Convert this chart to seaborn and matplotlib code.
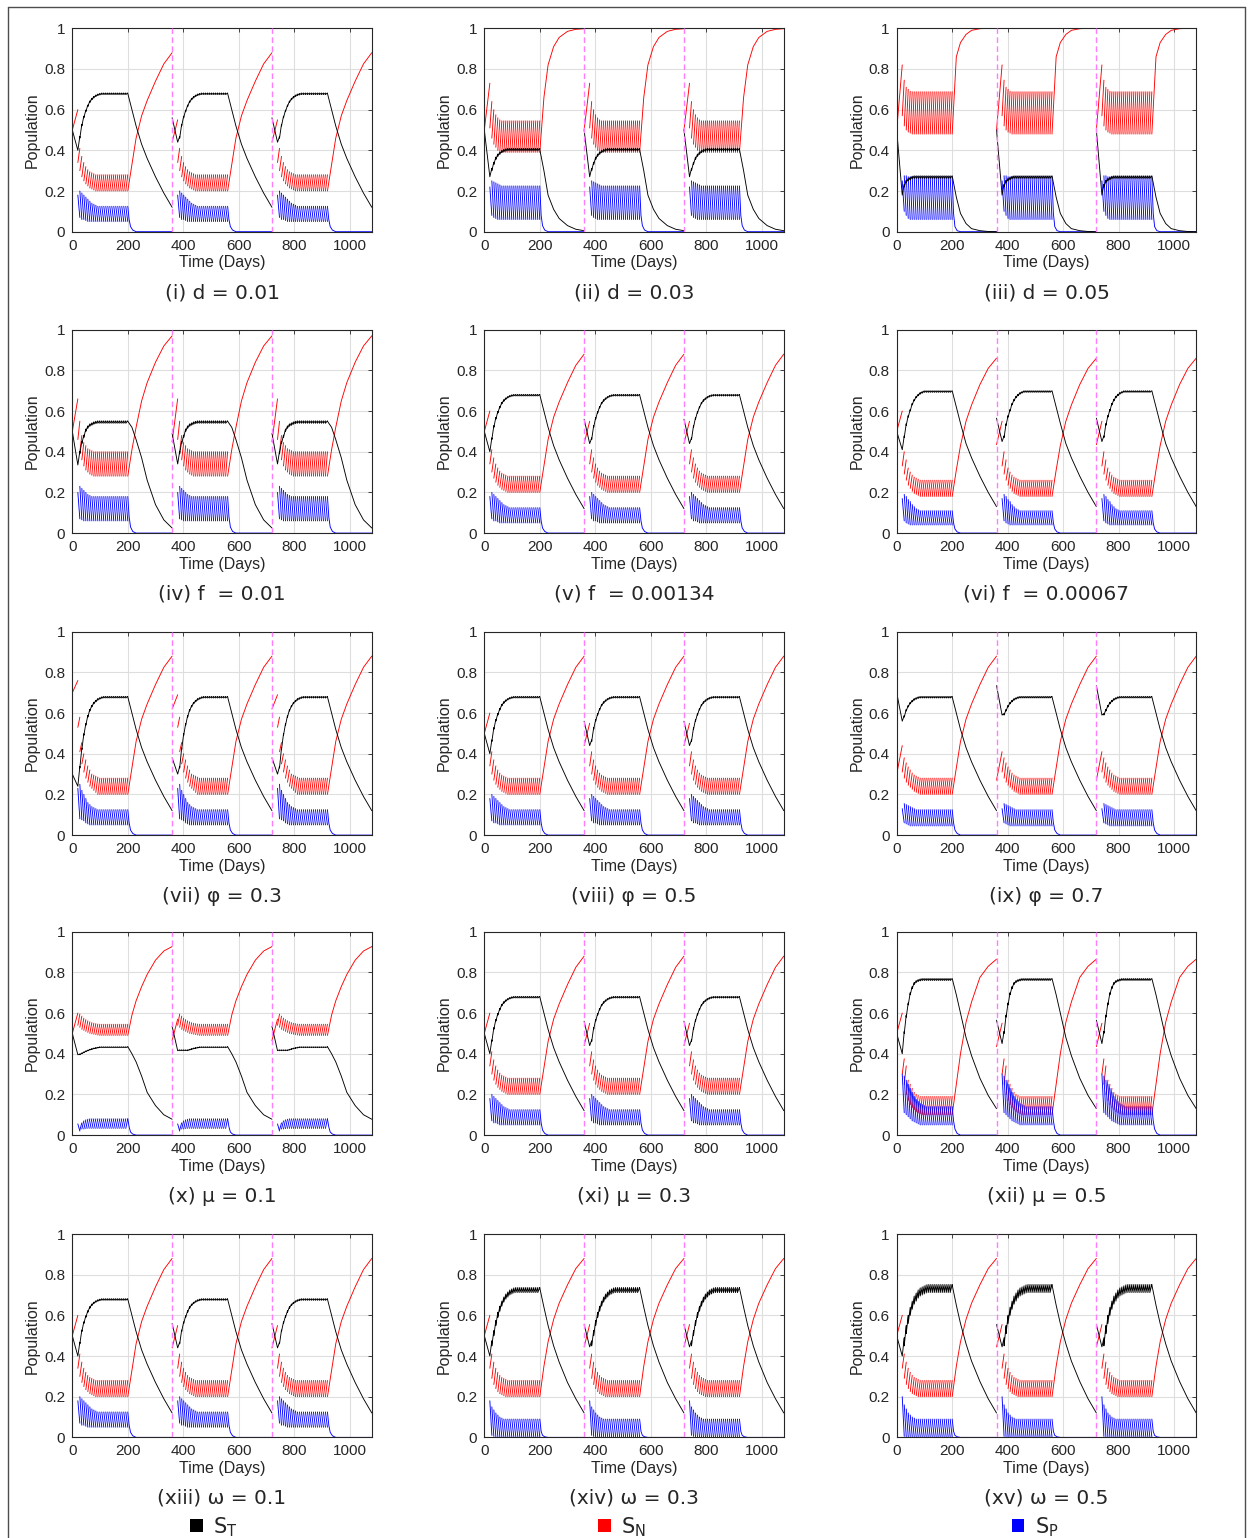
import numpy as np
import pandas as pd
import matplotlib
matplotlib.use("Agg")
import matplotlib.pyplot as plt
from matplotlib.patches import Patch
from matplotlib.lines import Line2D
import seaborn as sns

# ---- data ------------------------------------------------------------------
captions = ["(i) d = 0.01", "(ii) d = 0.03", "(iii) d = 0.05",
            "(iv) f  = 0.01", "(v) f  = 0.00134", "(vi) f  = 0.00067",
            "(vii) \u03c6 = 0.3", "(viii) \u03c6 = 0.5", "(ix) \u03c6 = 0.7",
            "(x) \u03bc = 0.1", "(xi) \u03bc = 0.3", "(xii) \u03bc = 0.5",
            "(xiii) \u03c9 = 0.1", "(xiv) \u03c9 = 0.3", "(xv) \u03c9 = 0.5"]

SEASON_START = [0, 360, 720]
PRE_T = 20                               # first treatment pulse (day of season)
PULSE_T = np.linspace(20, 200, 26)       # treatment pulses, roughly weekly
POST_T = [200, 215, 230, 250, 270, 300, 330, 360]
BLUE_POST_T = [200, 205, 210, 218, 230, 360]

# initial values (first season / later seasons) and value at first pulse
black_start1 = [0.50, 0.50, 0.50, 0.50, 0.50, 0.50, 0.30, 0.50, 0.70, 0.50, 0.50, 0.50, 0.50, 0.50, 0.50]
black_dip1 = [0.40, 0.27, 0.18, 0.335, 0.40, 0.41, 0.24, 0.40, 0.56, 0.395, 0.40, 0.40, 0.40, 0.40, 0.40]
black_start2 = [0.56, 0.50, 0.50, 0.49, 0.56, 0.565, 0.38, 0.56, 0.735, 0.535, 0.56, 0.565, 0.56, 0.555, 0.555]
black_dip2 = [0.44, 0.27, 0.18, 0.34, 0.44, 0.45, 0.30, 0.44, 0.59, 0.415, 0.44, 0.45, 0.44, 0.445, 0.445]
red_start1 = [0.50, 0.50, 0.50, 0.50, 0.50, 0.50, 0.70, 0.50, 0.30, 0.50, 0.50, 0.50, 0.50, 0.50, 0.50]
red_peak1 = [0.60, 0.73, 0.82, 0.66, 0.60, 0.60, 0.76, 0.60, 0.44, 0.60, 0.60, 0.60, 0.60, 0.60, 0.60]
red_start2 = [0.44, 0.50, 0.50, 0.45, 0.44, 0.435, 0.62, 0.44, 0.27, 0.465, 0.44, 0.435, 0.44, 0.445, 0.445]
red_peak2 = [0.55, 0.73, 0.82, 0.66, 0.55, 0.55, 0.69, 0.55, 0.41, 0.57, 0.55, 0.55, 0.55, 0.555, 0.555]

# S_N teeth: value just after each pulse / just before the next one
red_after = [
    [0.34, 0.30, 0.27, 0.25, 0.235, 0.225, 0.215, 0.21, 0.205, 0.20],
    [0.51, 0.46, 0.43, 0.415, 0.40, 0.395, 0.39],
    [0.57, 0.52, 0.50, 0.49, 0.485, 0.48],
    [0.46, 0.40, 0.36, 0.33, 0.31, 0.30, 0.29, 0.285, 0.28],
    [0.34, 0.30, 0.27, 0.25, 0.235, 0.225, 0.215, 0.21, 0.205, 0.20],
    [0.33, 0.29, 0.26, 0.235, 0.22, 0.205, 0.195, 0.19, 0.185, 0.18],
    [0.53, 0.41, 0.35, 0.31, 0.28, 0.26, 0.24, 0.23, 0.22, 0.21, 0.20],
    [0.34, 0.30, 0.27, 0.25, 0.235, 0.225, 0.215, 0.21, 0.205, 0.20],
    [0.31, 0.28, 0.26, 0.245, 0.235, 0.225, 0.215, 0.21, 0.205, 0.20],
    [0.54, 0.53, 0.52, 0.515, 0.51, 0.505, 0.50, 0.498, 0.496, 0.494, 0.492, 0.49],
    [0.34, 0.30, 0.27, 0.25, 0.235, 0.225, 0.215, 0.21, 0.205, 0.20],
    [0.30, 0.25, 0.20, 0.17, 0.15, 0.135, 0.125, 0.115, 0.11, 0.105, 0.10],
    [0.34, 0.30, 0.27, 0.25, 0.235, 0.225, 0.215, 0.21, 0.205, 0.20],
    [0.34, 0.29, 0.26, 0.24, 0.225, 0.215, 0.21, 0.205, 0.20],
    [0.34, 0.29, 0.26, 0.24, 0.225, 0.215, 0.21, 0.205, 0.20],
]
red_before = [
    [0.41, 0.37, 0.34, 0.32, 0.305, 0.295, 0.29, 0.285, 0.28],
    [0.64, 0.60, 0.575, 0.56, 0.55, 0.545],
    [0.745, 0.71, 0.70, 0.69, 0.688],
    [0.55, 0.48, 0.445, 0.43, 0.415, 0.41, 0.405, 0.40],
    [0.41, 0.37, 0.34, 0.32, 0.305, 0.295, 0.29, 0.285, 0.28],
    [0.40, 0.36, 0.32, 0.30, 0.285, 0.275, 0.27, 0.265, 0.26],
    [0.58, 0.455, 0.40, 0.37, 0.34, 0.32, 0.30, 0.295, 0.29, 0.285, 0.28],
    [0.41, 0.37, 0.34, 0.32, 0.305, 0.295, 0.29, 0.285, 0.28],
    [0.38, 0.355, 0.335, 0.32, 0.305, 0.295, 0.29, 0.285, 0.28],
    [0.595, 0.585, 0.575, 0.568, 0.562, 0.557, 0.553, 0.55, 0.548, 0.546, 0.545],
    [0.41, 0.37, 0.34, 0.32, 0.305, 0.295, 0.29, 0.285, 0.28],
    [0.375, 0.34, 0.27, 0.25, 0.23, 0.21, 0.20, 0.195, 0.19],
    [0.41, 0.37, 0.34, 0.32, 0.305, 0.295, 0.29, 0.285, 0.28],
    [0.41, 0.37, 0.34, 0.32, 0.305, 0.295, 0.29, 0.285, 0.28],
    [0.41, 0.37, 0.34, 0.32, 0.305, 0.295, 0.29, 0.285, 0.28],
]

# S_P teeth
blue_after = [
    [0.18, 0.20, 0.19, 0.18, 0.17, 0.16, 0.15, 0.14, 0.135, 0.13, 0.125],
    [0.22, 0.25, 0.245, 0.24, 0.235, 0.23, 0.225],
    [0.25, 0.275, 0.275, 0.27],
    [0.20, 0.23, 0.22, 0.21, 0.20, 0.19, 0.185, 0.18],
    [0.18, 0.20, 0.19, 0.18, 0.17, 0.16, 0.15, 0.14, 0.135, 0.13, 0.125],
    [0.17, 0.19, 0.18, 0.165, 0.155, 0.14, 0.13, 0.12, 0.115, 0.11],
    [0.23, 0.25, 0.22, 0.20, 0.18, 0.16, 0.15, 0.14, 0.135, 0.13, 0.125],
    [0.18, 0.20, 0.19, 0.18, 0.17, 0.16, 0.15, 0.14, 0.135, 0.13, 0.125],
    [0.13, 0.155, 0.15, 0.145, 0.14, 0.135, 0.13, 0.125],
    [0.055, 0.025, 0.03, 0.03, 0.032, 0.033],
    [0.18, 0.20, 0.19, 0.18, 0.17, 0.16, 0.15, 0.14, 0.135, 0.13, 0.125],
    [0.30, 0.29, 0.27, 0.25, 0.23, 0.21, 0.19, 0.175, 0.165, 0.155, 0.15, 0.145, 0.14],
    [0.18, 0.20, 0.19, 0.18, 0.17, 0.16, 0.15, 0.14, 0.135, 0.13, 0.125],
    [0.18, 0.15, 0.135, 0.12, 0.11, 0.10, 0.095, 0.09],
    [0.20, 0.16, 0.14, 0.12, 0.11, 0.10, 0.095, 0.09],
]
blue_before = [
    [0.07, 0.06, 0.06, 0.055, 0.05],
    [0.08, 0.07, 0.065, 0.06],
    [0.10, 0.08, 0.065, 0.06],
    [0.07, 0.065, 0.06],
    [0.07, 0.06, 0.06, 0.055, 0.05],
    [0.06, 0.05, 0.045, 0.04],
    [0.08, 0.075, 0.07, 0.06, 0.055, 0.05],
    [0.07, 0.06, 0.06, 0.055, 0.05],
    [0.06, 0.055, 0.05, 0.045],
    [0.02, 0.06, 0.07, 0.075, 0.078, 0.08],
    [0.07, 0.06, 0.06, 0.055, 0.05],
    [0.11, 0.10, 0.09, 0.08, 0.07, 0.065, 0.06, 0.055, 0.05],
    [0.07, 0.06, 0.06, 0.055, 0.05],
    [0.01, 0.005, 0.003],
    [0.005, 0.003],
]

# S_T during treatment: value at each pulse, and small ripple between pulses
black_low = [
    [0.40, 0.46, 0.52, 0.56, 0.59, 0.615, 0.635, 0.648, 0.657, 0.664, 0.669, 0.672, 0.674],
    [0.27, 0.30, 0.33, 0.355, 0.37, 0.38, 0.388, 0.393, 0.396, 0.398],
    [0.18, 0.22, 0.24, 0.25, 0.255, 0.26, 0.262],
    [0.335, 0.39, 0.44, 0.47, 0.50, 0.515, 0.525, 0.53, 0.535, 0.538, 0.54],
    [0.40, 0.46, 0.52, 0.56, 0.59, 0.615, 0.635, 0.648, 0.657, 0.664, 0.669, 0.672, 0.674],
    [0.41, 0.47, 0.53, 0.57, 0.60, 0.63, 0.65, 0.665, 0.675, 0.683, 0.688, 0.692],
    [0.24, 0.33, 0.42, 0.49, 0.54, 0.58, 0.61, 0.63, 0.645, 0.655, 0.663, 0.668, 0.672, 0.674],
    [0.40, 0.46, 0.52, 0.56, 0.59, 0.615, 0.635, 0.648, 0.657, 0.664, 0.669, 0.672, 0.674],
    [0.56, 0.58, 0.61, 0.63, 0.645, 0.655, 0.663, 0.668, 0.672, 0.674],
    [0.395, 0.395, 0.40, 0.405, 0.41, 0.414, 0.418, 0.421, 0.424, 0.426, 0.428, 0.43],
    [0.40, 0.46, 0.52, 0.56, 0.59, 0.615, 0.635, 0.648, 0.657, 0.664, 0.669, 0.672, 0.674],
    [0.40, 0.50, 0.58, 0.64, 0.69, 0.72, 0.74, 0.75, 0.755, 0.758, 0.76],
    [0.40, 0.46, 0.52, 0.56, 0.59, 0.615, 0.635, 0.648, 0.657, 0.664, 0.669, 0.672, 0.674],
    [0.40, 0.45, 0.50, 0.55, 0.59, 0.62, 0.645, 0.665, 0.68, 0.69, 0.70, 0.705, 0.71, 0.712],
    [0.40, 0.45, 0.51, 0.56, 0.60, 0.63, 0.655, 0.67, 0.685, 0.695, 0.70, 0.705, 0.71, 0.712],
]
black_ripple = [0.008, 0.012, 0.013, 0.012, 0.008, 0.008, 0.008, 0.008, 0.008, 0.004, 0.008, 0.01, 0.008, 0.025, 0.04]

# after treatment stops (days 200-360 of each season)
red_post = [
    [0.20, 0.33, 0.46, 0.57, 0.645, 0.74, 0.825, 0.88],
    [0.39, 0.66, 0.82, 0.91, 0.955, 0.985, 0.995, 0.998],
    [0.48, 0.86, 0.93, 0.97, 0.99, 0.998, 1.0, 1.0],
    [0.28, 0.41, 0.52, 0.65, 0.74, 0.84, 0.92, 0.97],
    [0.20, 0.33, 0.46, 0.57, 0.645, 0.74, 0.825, 0.88],
    [0.18, 0.31, 0.43, 0.55, 0.63, 0.73, 0.81, 0.86],
    [0.20, 0.33, 0.46, 0.57, 0.645, 0.74, 0.825, 0.88],
    [0.20, 0.33, 0.46, 0.57, 0.645, 0.74, 0.825, 0.88],
    [0.20, 0.33, 0.46, 0.57, 0.645, 0.74, 0.825, 0.88],
    [0.49, 0.59, 0.66, 0.73, 0.79, 0.86, 0.905, 0.927],
    [0.20, 0.33, 0.46, 0.57, 0.645, 0.74, 0.825, 0.88],
    [0.10, 0.25, 0.40, 0.555, 0.655, 0.775, 0.83, 0.865],
    [0.20, 0.33, 0.46, 0.57, 0.645, 0.74, 0.825, 0.88],
    [0.20, 0.35, 0.47, 0.58, 0.66, 0.75, 0.83, 0.88],
    [0.20, 0.35, 0.47, 0.58, 0.66, 0.75, 0.83, 0.88],
]
black_post = [
    [0.68, 0.60, 0.52, 0.43, 0.36, 0.27, 0.19, 0.12],
    [0.405, 0.30, 0.18, 0.11, 0.065, 0.03, 0.012, 0.005],
    [0.275, 0.17, 0.09, 0.04, 0.015, 0.005, 0.001, 0.0],
    [0.55, 0.52, 0.46, 0.37, 0.26, 0.14, 0.065, 0.025],
    [0.68, 0.60, 0.52, 0.43, 0.36, 0.27, 0.19, 0.12],
    [0.70, 0.62, 0.54, 0.44, 0.37, 0.28, 0.20, 0.13],
    [0.68, 0.60, 0.52, 0.43, 0.36, 0.27, 0.19, 0.12],
    [0.68, 0.60, 0.52, 0.43, 0.36, 0.27, 0.19, 0.12],
    [0.68, 0.60, 0.52, 0.43, 0.36, 0.27, 0.19, 0.12],
    [0.435, 0.40, 0.36, 0.29, 0.21, 0.145, 0.10, 0.078],
    [0.68, 0.60, 0.52, 0.43, 0.36, 0.27, 0.19, 0.12],
    [0.77, 0.69, 0.60, 0.48, 0.39, 0.28, 0.195, 0.13],
    [0.68, 0.60, 0.52, 0.43, 0.36, 0.27, 0.19, 0.12],
    [0.735, 0.64, 0.55, 0.45, 0.37, 0.27, 0.19, 0.12],
    [0.75, 0.65, 0.56, 0.46, 0.375, 0.275, 0.19, 0.12],
]
blue_post = [
    [0.125, 0.06, 0.025, 0.008, 0.0, 0.0],
    [0.225, 0.08, 0.03, 0.008, 0.0, 0.0],
    [0.27, 0.09, 0.025, 0.005, 0.0, 0.0],
    [0.18, 0.08, 0.03, 0.008, 0.0, 0.0],
    [0.125, 0.06, 0.025, 0.008, 0.0, 0.0],
    [0.11, 0.05, 0.02, 0.006, 0.0, 0.0],
    [0.125, 0.06, 0.025, 0.008, 0.0, 0.0],
    [0.125, 0.06, 0.025, 0.008, 0.0, 0.0],
    [0.125, 0.06, 0.025, 0.008, 0.0, 0.0],
    [0.08, 0.04, 0.015, 0.005, 0.0, 0.0],
    [0.125, 0.06, 0.025, 0.008, 0.0, 0.0],
    [0.14, 0.07, 0.03, 0.008, 0.0, 0.0],
    [0.125, 0.06, 0.025, 0.008, 0.0, 0.0],
    [0.09, 0.03, 0.01, 0.003, 0.0, 0.0],
    [0.09, 0.03, 0.01, 0.003, 0.0, 0.0],
]

x_ticks = [0, 200, 400, 600, 800, 1000]
y_ticks = [0, 0.2, 0.4, 0.6, 0.8, 1]
y_ticklabels = ["0", "0.2", "0.4", "0.6", "0.8", "1"]
colors = {"ST": "black", "SN": "#ff0000", "SP": "#0000ff"}


def pad(vals, n):
    vals = list(vals)
    return vals + [vals[-1]] * (n - len(vals))


def panel_frame(p):
    rows = []
    seg = [0]

    def add(series, ts, vs):
        for t, v in zip(ts, vs):
            rows.append((t, v, series, seg[0]))
        seg[0] += 1

    n = len(PULSE_T) - 1
    ra, rb = pad(red_after[p], n), pad(red_before[p], n)
    ba, bb = pad(blue_after[p], n), pad(blue_before[p], n)
    for s, o in enumerate(SEASON_START):
        if s == 0:
            b0, bd, r0, rp = black_start1[p], black_dip1[p], red_start1[p], red_peak1[p]
        else:
            b0, bd, r0, rp = black_start2[p], black_dip2[p], red_start2[p], red_peak2[p]
        lo = [max(v, bd) for v in pad(black_low[p], n + 1)]
        lo[0] = bd

        # S_T : one continuous line per season
        bt, bv = [o, o + PRE_T], [b0, bd]
        for k in range(n):
            bt.append(o + PULSE_T[k + 1])
            bv.append(lo[k + 1] + black_ripple[p])
            if k < n - 1:
                bt.append(o + PULSE_T[k + 1])
                bv.append(lo[k + 1])
        bt += [o + t for t in POST_T]
        bv += black_post[p]
        add("ST", bt, bv)

        # S_N : broken at every pulse
        add("SN", [o, o + PRE_T], [r0, rp])
        for k in range(n):
            add("SN", [o + PULSE_T[k], o + PULSE_T[k + 1]], [ra[k], rb[k]])
        add("SN", [o + t for t in POST_T], red_post[p])

        # S_P
        add("SP", [o, o + PRE_T], [0, 0])
        for k in range(n):
            add("SP", [o + PULSE_T[k], o + PULSE_T[k + 1]], [ba[k], bb[k]])
        add("SP", [o + t for t in BLUE_POST_T], blue_post[p])
    return pd.DataFrame(rows, columns=["t", "value", "series", "seg"])


# ---- figure -----------------------------------------------------------------
sns.set_style("whitegrid")
plt.rcParams["font.family"] = ["DejaVu Sans"]

W, H = 1249, 1538
fig = plt.figure(figsize=(W / 100, H / 100), dpi=100)

col_left = [72.3, 484.3, 896.7]
row_top = [28.3, 329.7, 631.7, 931.7, 1234.0]
ax_w, ax_h = 299.5, 203.4
tick_font = "Liberation Sans"

for p in range(15):
    r, c = divmod(p, 3)
    left, top = col_left[c], row_top[r]
    ax = fig.add_axes([left / W, 1 - (top + ax_h) / H, ax_w / W, ax_h / H])
    df = panel_frame(p)
    sns.lineplot(data=df, x="t", y="value", hue="series", units="seg",
                 hue_order=["SN", "SP", "ST"], palette=colors,
                 estimator=None, sort=False, legend=False, lw=0.65, ax=ax)
    for xv in [360, 720]:
        ax.axvline(xv, color="#ff7cff", ls=(0, (4, 2.5)), lw=1.0, zorder=4)

    ax.set_xlim(0, 1080)
    ax.set_ylim(0, 1)
    ax.set_xticks(x_ticks)
    ax.set_xticklabels([str(v) for v in x_ticks], fontfamily=tick_font)
    ax.set_yticks(y_ticks)
    ax.set_yticklabels(y_ticklabels, fontfamily=tick_font)
    ax.grid(True, color="#dedede", lw=0.8)
    ax.set_axisbelow(True)
    for sp in ax.spines.values():
        sp.set_visible(True)
        sp.set_color("#262626")
        sp.set_linewidth(0.8)
    ax.tick_params(direction="in", top=True, right=True, length=3, width=0.6,
                   color="#262626", labelsize=11, labelcolor="#262626", pad=5)
    ax.set_xlabel("Time (Days)", fontsize=11.5, fontfamily=tick_font,
                  color="#262626", labelpad=2)
    ax.set_ylabel("Population", fontsize=11.5, fontfamily=tick_font,
                  color="#262626", labelpad=3)

    fig.text((left + ax_w / 2) / W, 1 - (top + ax_h + 61) / H, captions[p],
             ha="center", va="center", fontsize=14.5)

# legend row at the bottom
for label, key, xc in [("S_T", "ST", 214), ("S_N", "SN", 622), ("S_P", "SP", 1035)]:
    fig.legend(handles=[Patch(facecolor=colors[key], edgecolor="none")],
               labels=[r"$\mathregular{" + label + "}$"], loc="center",
               bbox_to_anchor=(xc / W, 1 - 1527 / H), frameon=False,
               fontsize=15, handlelength=0.6, handleheight=0.6,
               handletextpad=0.5, borderpad=0)

# thin frame around the whole figure
frame_kw = dict(transform=fig.transFigure, color="#4d4d4d", lw=1.0)
fig.add_artist(Line2D([8 / W, 1245 / W], [1 - 7 / H, 1 - 7 / H], **frame_kw))
fig.add_artist(Line2D([8 / W, 8 / W], [0, 1 - 7 / H], **frame_kw))
fig.add_artist(Line2D([1245 / W, 1245 / W], [0, 1 - 7 / H], **frame_kw))

fig.savefig("out.png", dpi=100)
